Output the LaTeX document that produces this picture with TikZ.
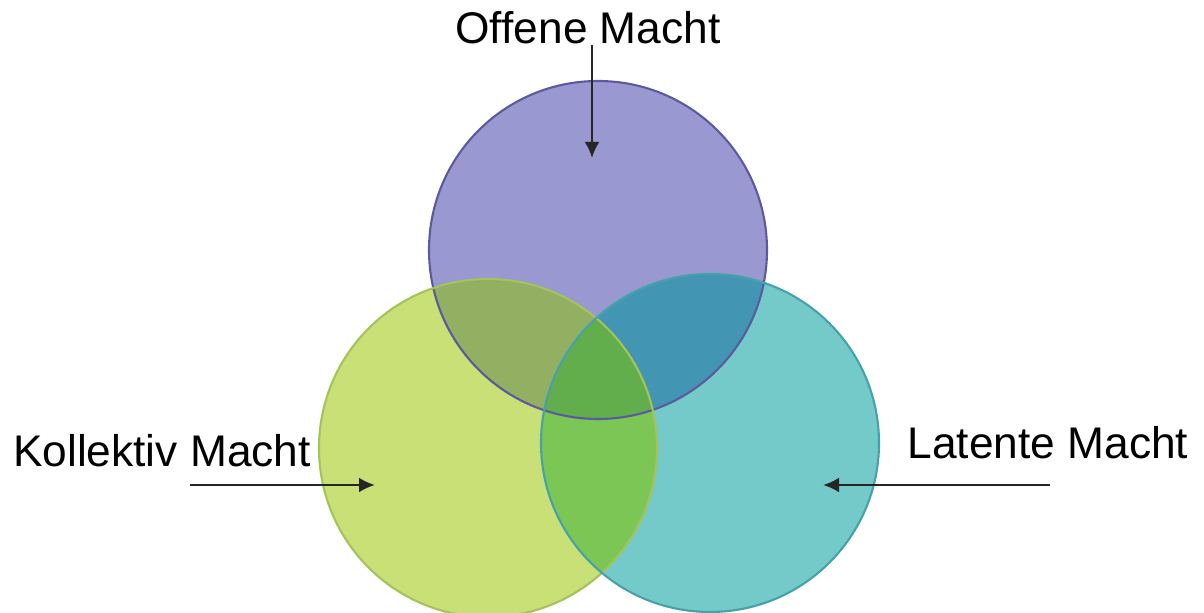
\documentclass[tikz,border=0pt]{standalone}
\usepackage{fontspec}
\setmainfont{Liberation Sans}
\usetikzlibrary{arrows.meta,positioning}
\definecolor{offenfill}{HTML}{9A98D0}
\definecolor{offenline}{HTML}{5C5A9E}
\definecolor{kollfill}{HTML}{C8E076}
\definecolor{kollline}{HTML}{A6C25A}
\definecolor{latfill}{HTML}{74C9C9}
\definecolor{latline}{HTML}{46A2AA}
\definecolor{okfill}{HTML}{92AF62}
\definecolor{olfill}{HTML}{4296B4}
\definecolor{klfill}{HTML}{7CC656}
\definecolor{oklfill}{HTML}{62AE4C}

\begin{document}
\begin{tikzpicture}[
  lab/.style={inner sep=0pt,font=\fontsize{12.6}{15}\selectfont},
  rim/.style={line width=0.6pt},
  pfeil/.style={line width=0.8pt,black!85,-{Latex[length=1.6mm,width=1.5mm]}}
]
\useasboundingbox (0,0) rectangle (12.04,6.12);
\def\rad{1.69}
% circle centres
\coordinate (offen) at (5.98,3.62);
\coordinate (koll) at (4.88,1.64);
\coordinate (lat) at (7.10,1.69);

% plain discs
\fill[offenfill] (offen) circle (\rad);
\fill[kollfill] (koll) circle (\rad);
\fill[latfill] (lat) circle (\rad);
% overlaps
\begin{scope}
  \clip (koll) circle (\rad);
  \fill[klfill] (lat) circle (\rad);
\end{scope}
\begin{scope}
  \clip (offen) circle (\rad);
  \fill[okfill] (koll) circle (\rad);
  \fill[olfill] (lat) circle (\rad);
  \clip (koll) circle (\rad);
  \fill[oklfill] (lat) circle (\rad);
\end{scope}
% outlines
\foreach \c/\col in {offen/offenline,koll/kollline,lat/latline}{\draw[rim,\col] (\c) circle (\rad);}

\node[lab] (offenlab) at (5.88,5.84) {Offene Macht};
\node[lab] (kolllab) at (1.62,1.61) {Kollektiv Macht};
\node[lab] (latlab) at (10.48,1.69) {Latente Macht};

\coordinate (offen-start) at (5.92,5.67);
\coordinate (offen-tip) at (5.92,4.54);
\coordinate (koll-start) at (1.90,1.27);
\coordinate (koll-tip) at (3.75,1.27);
\coordinate (lat-start) at (10.50,1.27);
\coordinate (lat-tip) at (8.23,1.27);
\foreach \a in {offen,koll,lat}{\draw[pfeil] (\a-start) -- (\a-tip);}
\end{tikzpicture}
\end{document}
